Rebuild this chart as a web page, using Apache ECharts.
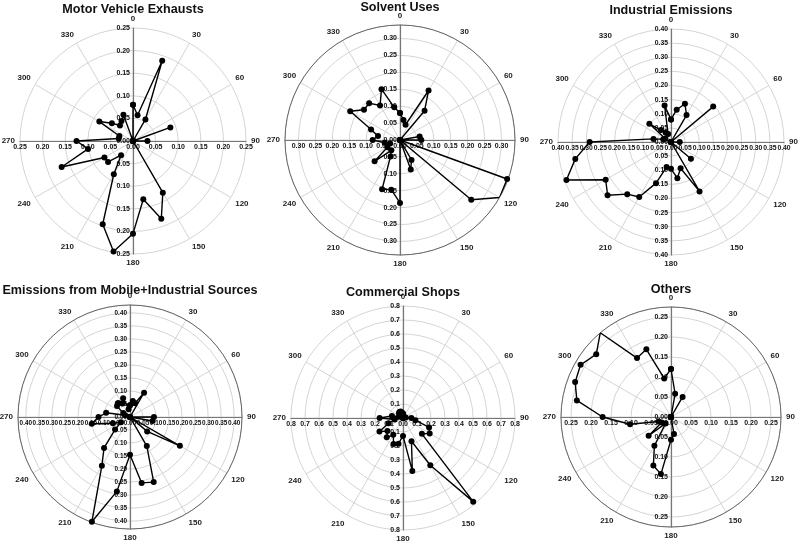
<!DOCTYPE html>
<html><head><meta charset="utf-8">
<script src="https://cdn.jsdelivr.net/npm/echarts@6/dist/echarts.min.js"></script>
<style>html,body{margin:0;padding:0;background:#fff}#c{width:798px;height:542px}</style>
</head><body><div id="c"></div>
<script>
// wind direction bins (degrees)
const directions = [0,10,20,30,40,50,60,70,80,90,100,110,120,130,140,150,160,170,180,190,200,210,220,230,240,250,260,270,280,290,300,310,320,330,340,350];

const motorVehicleExhausts = [0.080,0.058,0.189,0.055,0,0,0,0.088,0,0.032,0,0,0,0,0,0.132,0.183,0.131,0.205,0.248,0.196,0.085,0.041,0.072,0.073,0.168,0.101,0.125,0.032,0.032,0.086,0.061,0.045,0.051,0.062,0];
const solventUses = [0.080,0.060,0.048,0.169,0.113,0,0,0,0.059,0.063,0,0.337,0.340,0.275,0,0.068,0.093,0,0.186,0.149,0.155,0.056,0.040,0.098,0.043,0.031,0.046,0.081,0.066,0.091,0.170,0.139,0.142,0.118,0.160,0.098];
const industrialEmissions = [0.080,0.116,0.144,0.110,0,0.195,0,0,0,0.031,0,0,0,0.092,0,0.202,0.099,0.130,0.095,0.090,0.155,0.225,0.241,0.293,0.267,0.394,0.344,0.288,0.063,0.029,0.023,0.100,0.055,0.038,0.030,0.131];
const mobileIndustrial = [0.045,0.062,0.056,0.108,0,0,0,0,0,0.092,0.088,0,0.221,0.086,0,0.129,0.266,0.257,0.145,0.290,0.428,0.216,0.155,0.075,0.040,0.070,0.149,0.121,0.093,0.020,0.030,0.065,0.070,0.060,0.077,0.030];
const commercialShops = [0.03,0.02,0.01,0,0,0,0,0,0.02,0.06,0.09,0.198,0.22,0.176,0.78,0.39,0.177,0.384,0.128,0.186,0.197,0.139,0.18,0.145,0.194,0.11,0.06,0.167,0.08,0.03,0.02,0.03,0.045,0.05,0.05,0.04];
const others = [0.120,0.059,0,0.058,0,0,0,0,0,0,0,0,0,0,0,0,0,0.043,0.057,0.145,0.129,0.083,0.021,0.073,0.027,0.033,0.104,0.171,0.239,0.255,0.261,0.244,0.275,0.170,0.180,0.098];

// radial tick labels
const ticks025 = [0,0.05,0.10,0.15,0.20,0.25];
const ticks030 = [0,0.05,0.10,0.15,0.20,0.25,0.30];
const ticks040 = [0,0.05,0.10,0.15,0.20,0.25,0.30,0.35,0.40];
const ticks08 = [0,0.1,0.2,0.3,0.4,0.5,0.6,0.7,0.8];

const FONT = '"Liberation Sans", Arial, sans-serif';

const panels = [
  {title:'Motor Vehicle Exhausts', values:motorVehicleExhausts, max:0.25, step:0.05, ticks:ticks025, dec:2, dark:false, c:[133,141], r:113, ty:9, lfs:7},
  {title:'Solvent Uses', values:solventUses, max:0.34, step:0.05, ticks:ticks030, dec:2, dark:true, c:[400,140], r:115, ty:7.5, lfs:7},
  {title:'Industrial Emissions', values:industrialEmissions, max:0.40, step:0.05, ticks:ticks040, dec:2, dark:false, c:[671,142], r:113, ty:10, lfs:6.8},
  {title:'Emissions from Mobile+Industrial Sources', values:mobileIndustrial, max:0.43, step:0.05, ticks:ticks040, dec:2, dark:true, c:[130,417], r:112, ty:290, lfs:6.4},
  {title:'Commercial Shops', values:commercialShops, max:0.8, step:0.1, ticks:ticks08, dec:1, dark:false, c:[403,418], r:112, ty:292, lfs:7},
  {title:'Others', values:others, max:0.275, step:0.05, ticks:ticks025, dec:2, dark:true, c:[671,417], r:110, ty:289, lfs:7}
];

const option = {animation:false, title:[], polar:[], angleAxis:[], radiusAxis:[], grid:[], xAxis:[], yAxis:[], series:[]};
const FS = 12.6;

panels.forEach((p,i)=>{
  const cx=p.c[0], cy=p.c[1], R=p.r;
  option.title.push({text:p.title, left:cx, top:p.ty-FS/2, textAlign:'center', padding:0,
    textStyle:{fontFamily:FONT, fontWeight:'bold', fontSize:FS, color:'#111'}});
  option.polar.push({center:[cx,cy], radius:R});
  option.angleAxis.push({polarIndex:i, type:'value', min:0, max:360, interval:30, startAngle:90, clockwise:true,
    axisLine:{show:p.dark, lineStyle:{color:'#666', width:1}},
    axisTick:{show:false},
    axisLabel:{margin:5, fontSize:8, fontWeight:'bold', color:'#222', fontFamily:FONT, formatter:v=> v>=360?'':String(v)},
    splitLine:{show:true, lineStyle:{color:'#d4d4d4', width:1}}, z:1});
  option.radiusAxis.push({polarIndex:i, type:'value', min:0, max:p.max, interval:p.step,
    axisLine:{show:false}, axisTick:{show:false}, axisLabel:{show:false},
    splitLine:{show:true, lineStyle:{color:'#d4d4d4', width:1}}, z:1});
  const sym = p.ticks.slice(1).map(v=>-v).reverse().concat(p.ticks);
  const lab = {fontSize:p.lfs, fontWeight:'bold', color:'#111', fontFamily:FONT, margin:3, customValues:sym,
    showMinLabel:true, showMaxLabel:true, hideOverlap:false,
    formatter:v=>Math.abs(v).toFixed(p.dec)};
  const line = {show:true, onZero:false, lineStyle:{color:'#777', width:1.2}};
  const hidden = {show:false};
  // grid for horizontal axis: bottom edge through centre
  option.grid.push({left:cx-R, top:cy-R, width:2*R, height:R, containLabel:false, outerBoundsMode:'none'});
  option.xAxis.push({gridIndex:2*i, type:'value', position:'bottom', min:-p.max, max:p.max, axisLine:line, axisTick:{show:false}, splitLine:{show:false}, axisLabel:lab, z:2});
  option.yAxis.push(Object.assign({gridIndex:2*i, type:'value', min:0, max:1}, hidden));
  // grid for vertical axis: left edge through centre
  option.grid.push({left:cx, top:cy-R, width:R, height:2*R, containLabel:false, outerBoundsMode:'none'});
  option.xAxis.push(Object.assign({gridIndex:2*i+1, type:'value', min:0, max:1}, hidden));
  option.yAxis.push({gridIndex:2*i+1, type:'value', position:'left', min:-p.max, max:p.max, axisLine:line, axisTick:{show:false}, splitLine:{show:false}, axisLabel:lab, z:2});
  option.series.push({type:'line', coordinateSystem:'polar', polarIndex:i,
    data: directions.map((d,k)=>[p.values[k], d]).concat([[p.values[0],360]]),
    symbol:'circle', symbolSize:6, showAllSymbol:true, itemStyle:{color:'#000'}, lineStyle:{color:'#000', width:1.4}, z:5, silent:true});
});

const chart = echarts.init(document.getElementById('c'), null, {renderer:'canvas', devicePixelRatio:1});
chart.setOption(option);
</script></body></html>
